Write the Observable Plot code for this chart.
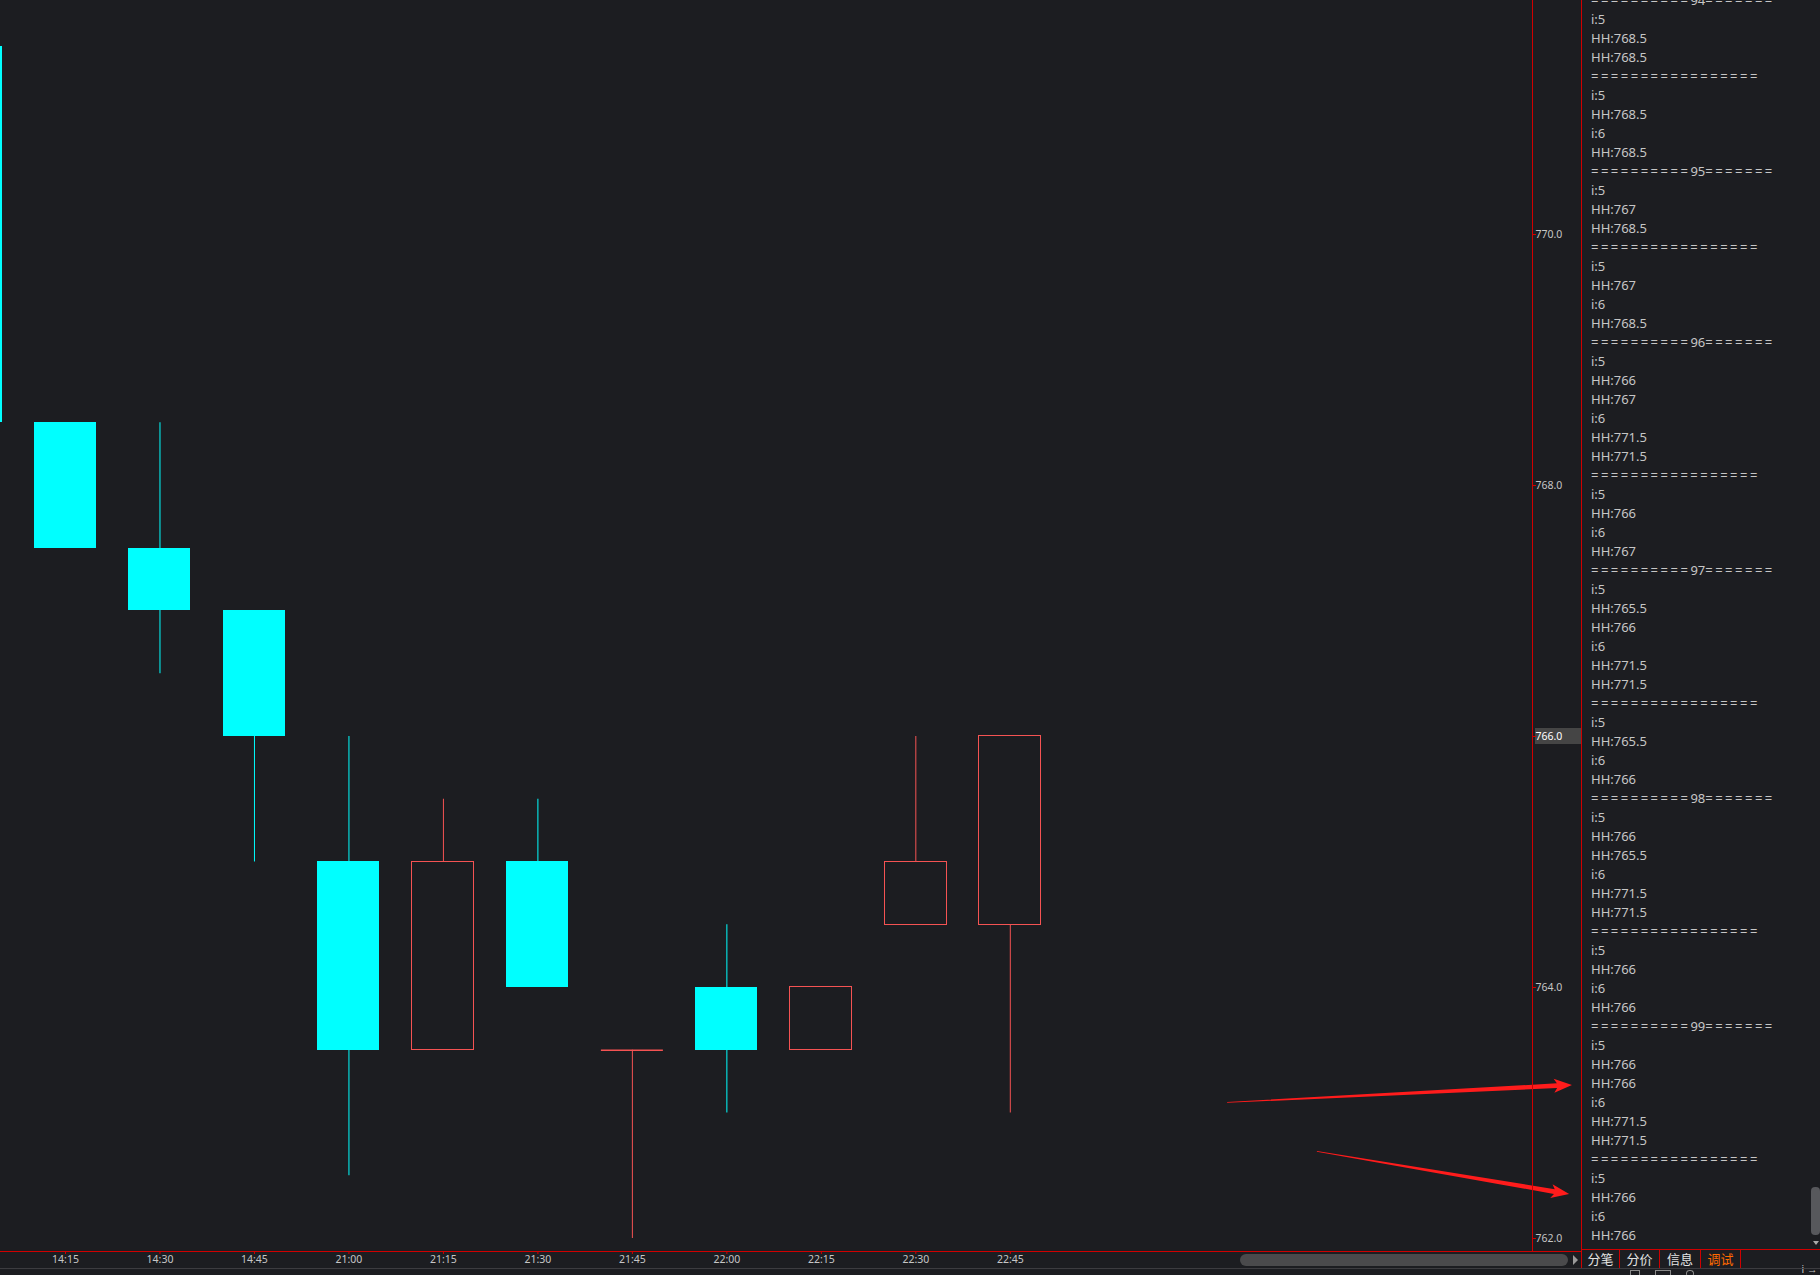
<!DOCTYPE html>
<html><head><meta charset="utf-8">
<script src="https://cdn.jsdelivr.net/npm/d3@7"></script>
<script src="https://cdn.jsdelivr.net/npm/@observablehq/plot@0.6"></script>
<style>
html,body{margin:0;padding:0;background:#1c1d21;width:1820px;height:1275px;overflow:hidden;}
#wrap{position:relative;width:1820px;height:1275px;}
#chart{position:absolute;left:0;top:0;}
#panel{position:absolute;left:1582px;top:0;width:238px;height:1249px;overflow:hidden;}
#log{position:absolute;left:9px;top:-9.5px;font-family:"Noto Sans",sans-serif;font-size:13px;line-height:19px;color:#c6c6c6;white-space:pre;}
#log .eq{letter-spacing:2.5px;}
#tabs{position:absolute;left:1582px;top:1250px;height:18px;width:238px;}
.tab{position:absolute;top:0;height:18px;line-height:18px;font-family:"Noto Sans CJK SC",sans-serif;font-size:13px;color:#e2e2e2;text-align:center;}
.tab.on{color:#ff6a00;}
</style></head>
<body><div id="wrap"><div id="chart"></div></div>
<script>
// ---- data ----
const times  = ["14:00","14:15","14:30","14:45","21:00","21:15","21:30","21:45","22:00","22:15","22:30","22:45"];
const opens  = [771.5, 768.5, 767.5, 767,   765,   763.5, 765,   763.5, 764,   763.5, 764.5, 764.5];
const closes = [768.5, 767.5, 767,   766,   763.5, 765,   764,   763.5, 763.5, 764,   765,   766];
const highs  = [771.5, 768.5, 768.5, 767,   766,   765.5, 765.5, 763.5, 764.5, 764,   766,   766];
const lows   = [768.5, 767.5, 766.5, 765,   762.5, 763.5, 764,   762,   763,   763.5, 764.5, 763];
const yTicks = [762, 764, 766, 768, 770];
const lastPrice = 766;
const arrowFrom = [[12.30, 763.08], [13.25, 762.69]];
const arrowTo   = [[15.95, 763.22], [15.92, 762.35]];
const logLines = [
"==========94=======",
"i:5","HH:768.5","HH:768.5",
"=================",
"i:5","HH:768.5","i:6","HH:768.5",
"==========95=======",
"i:5","HH:767","HH:768.5",
"=================",
"i:5","HH:767","i:6","HH:768.5",
"==========96=======",
"i:5","HH:766","HH:767","i:6","HH:771.5","HH:771.5",
"=================",
"i:5","HH:766","i:6","HH:767",
"==========97=======",
"i:5","HH:765.5","HH:766","i:6","HH:771.5","HH:771.5",
"=================",
"i:5","HH:765.5","i:6","HH:766",
"==========98=======",
"i:5","HH:766","HH:765.5","i:6","HH:771.5","HH:771.5",
"=================",
"i:5","HH:766","i:6","HH:766",
"==========99=======",
"i:5","HH:766","HH:766","i:6","HH:771.5","HH:771.5",
"=================",
"i:5","HH:766","i:6","HH:766"
];
const tabNames = ["分笔","分价","信息","调试"];

// ---- build ----
const RED = "#f55353", CYAN = "#00ffff", BG = "#1c1d21", AX = "#d00000";
const candles = times.map((t, k) => ({i: k - 1, t, o: opens[k], c: closes[k], h: highs[k], l: lows[k]}));
const hw = 0.328;
const downC = candles.filter(d => d.c < d.o);
const upC = candles.filter(d => d.c > d.o);
const flatC = candles.filter(d => d.c === d.o);

const plot = Plot.plot({
  width: 1820, height: 1275,
  marginLeft: 0, marginTop: 0, marginRight: 288, marginBottom: 24,
  style: {background: "transparent", color: "#c6c6c6", fontFamily: "'Noto Sans',sans-serif", fontSize: "10.5px", overflow: "visible"},
  x: {type: "linear", domain: [-0.688, 15.527]},
  y: {domain: [761.8964, 771.8645]},
  marks: [
    Plot.ruleX(downC, {x: "i", y1: "l", y2: "h", stroke: CYAN, clip: true}),
    Plot.ruleX(upC.concat(flatC), {x: "i", y1: "l", y2: "h", stroke: RED, clip: true}),
    Plot.rect(downC, {x1: d => d.i - hw, x2: d => d.i + hw, y1: "o", y2: "c", fill: CYAN, shapeRendering: "crispEdges", clip: true}),
    Plot.rect(upC, {x1: d => d.i - hw, x2: d => d.i + hw, y1: "o", y2: "c", fill: BG, stroke: RED, shapeRendering: "crispEdges", clip: true}),
    Plot.ruleY(flatC, {y: "c", x1: d => d.i - hw, x2: d => d.i + hw, stroke: RED, strokeWidth: 1.5}),
    Plot.axisY({anchor: "right", ticks: yTicks, tickFormat: d => d.toFixed(1), tickSize: 3, tickPadding: 0, stroke: AX, fill: "#c6c6c6", textAnchor: "start"}),
    Plot.axisX({anchor: "bottom", ticks: d3.range(0, 11), tickFormat: i => times[i + 1], tickSize: 3, tickPadding: 1, stroke: AX, fill: "#c6c6c6"})
  ]
});
document.getElementById("chart").appendChild(plot);

const sx = plot.scale("x"), sy = plot.scale("y");
const svg = d3.select(plot);
// last price highlight box
const yl = sy.apply(lastPrice);
svg.insert("rect", ":first-child").attr("x", 1535).attr("y", yl - 8).attr("width", 46).attr("height", 16).attr("fill", "#454545");
svg.selectAll("text").filter(function(){ return this.textContent === lastPrice.toFixed(1); }).attr("fill", "#ffffff");

// annotation arrows (tapered) positioned through the scales
arrowFrom.forEach((a, k) => {
  const b = arrowTo[k];
  const x0 = sx.apply(a[0]), y0 = sy.apply(a[1]), x1 = sx.apply(b[0]), y1 = sy.apply(b[1]);
  const dx = x1 - x0, dy = y1 - y0, L = Math.hypot(dx, dy);
  const ux = dx / L, uy = dy / L, nx = -uy, ny = ux;
  const head = 15, neckX = x1 - ux * head, neckY = y1 - uy * head;
  const notchX = x1 - ux * (head + 3), notchY = y1 - uy * (head + 3);
  const P = (x, y, w) => [x + nx * w, y + ny * w];
  const pts = [P(x0, y0, 0.4), P(neckX, neckY, 2.4), P(notchX, notchY, 7), [x1, y1], P(notchX, notchY, -7), P(neckX, neckY, -2.4), P(x0, y0, -0.4)];
  svg.append("polygon").attr("points", pts.map(p => p.join(",")).join(" ")).attr("fill", "#ff1c1c");
});

// chrome
const wrap = document.getElementById("wrap");
function box(css) { const d = document.createElement("div"); d.style.cssText = "position:absolute;" + css; wrap.appendChild(d); return d; }
box("left:0;top:1251px;width:1582px;height:1px;background:" + AX);
box("left:1532px;top:0;width:1px;height:1251px;background:" + AX);
box("left:1581px;top:0;width:1px;height:1268px;background:" + AX);
box("left:1581px;top:1249px;width:239px;height:1px;background:" + AX);
box("left:0;top:1268px;width:1820px;height:1px;background:#3c3c40");
box("left:1240px;top:1254px;width:328px;height:12px;border-radius:6px;background:#4a4a4c");
box("left:1573px;top:1255px;width:0;height:0;border-top:5px solid transparent;border-bottom:5px solid transparent;border-left:5px solid #9a9a9a");
box("left:1811px;top:1187px;width:9px;height:48px;border-radius:4px;background:#57585c");
box("left:1813px;top:1241px;width:0;height:0;border-left:3px solid transparent;border-right:3px solid transparent;border-top:4px solid #aaaaaa");
box("left:1630px;top:1270px;width:8px;height:6px;border:1px solid #8a8a8a;border-bottom:none");
box("left:1655px;top:1270px;width:14px;height:6px;border:1px solid #8a8a8a;border-bottom:none");
box("left:1686px;top:1270px;width:6px;height:6px;border:1px solid #8a8a8a;border-radius:4px;border-bottom:none");

// right log panel
const panel = box("left:1582px;top:0;width:238px;height:1249px;overflow:hidden;");
panel.id = "panel";
const log = document.createElement("div"); log.id = "log"; panel.appendChild(log);
logLines.forEach(s => {
  const d = document.createElement("div");
  s.split(/(=+)/).filter(p => p.length).forEach(p => {
    const sp = document.createElement("span");
    if (p[0] === "=") sp.className = "eq";
    sp.textContent = p; d.appendChild(sp);
  });
  log.appendChild(d);
});

// tabs
const tabs = box("left:1582px;top:1250px;width:238px;height:18px;"); tabs.id = "tabs";
const tabX = [[0, 37], [38, 77], [78, 118], [119, 158]];
tabNames.forEach((n, k) => {
  const t = document.createElement("div"); t.className = "tab" + (k === 3 ? " on" : "");
  t.style.left = tabX[k][0] + "px"; t.style.width = (tabX[k][1] - tabX[k][0]) + "px"; t.textContent = n; tabs.appendChild(t);
  const s = document.createElement("div"); s.style.cssText = "position:absolute;top:0;height:18px;width:1px;background:" + AX + ";left:" + tabX[k][1] + "px"; tabs.appendChild(s);
});
</script></body></html>
